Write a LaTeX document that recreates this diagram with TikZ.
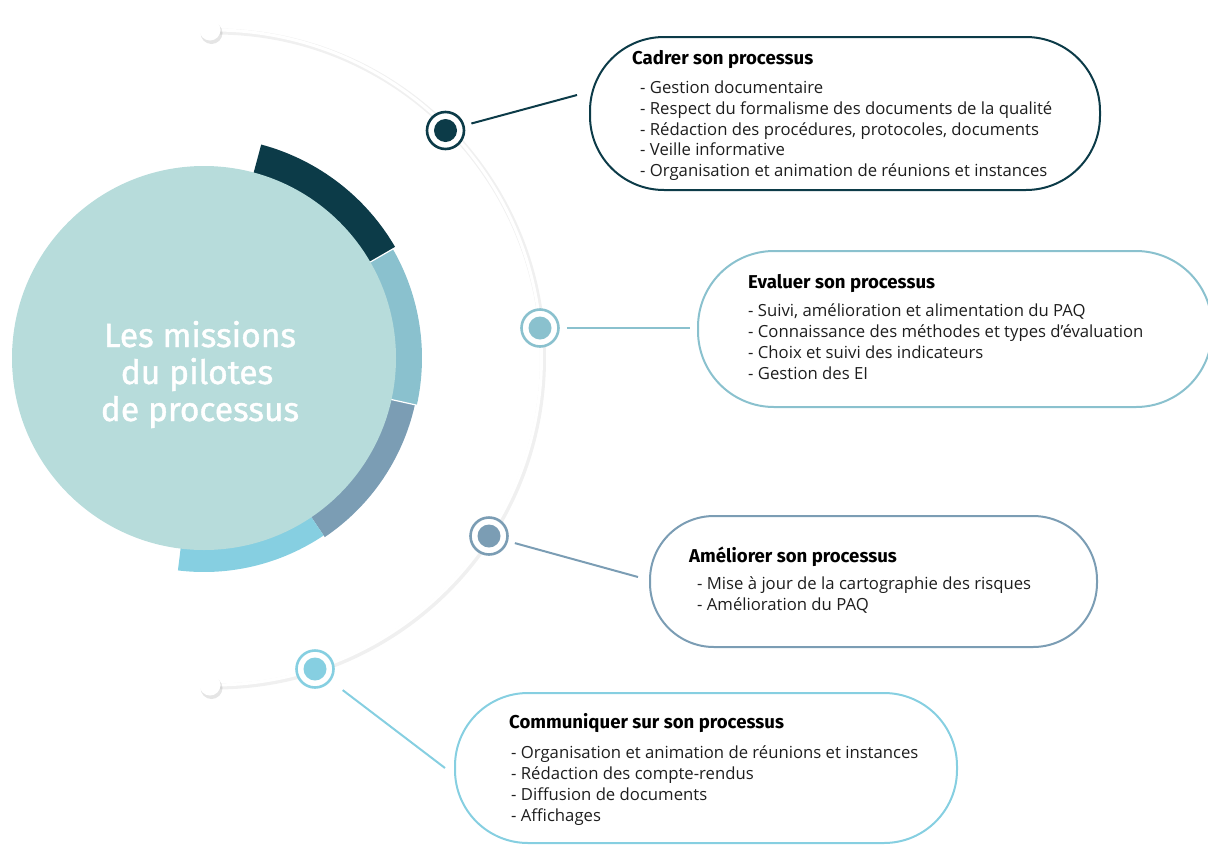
\documentclass[tikz,border=0pt]{standalone}
\usepackage{fontspec}
\setmainfont{Open Sans}
\newfontfamily\headfont{Fira Sans}
\newfontfamily\corefont{Fira Sans}[FakeBold=1.2]
\usetikzlibrary{calc}

\definecolor{corefill}{HTML}{B7DCDB}
\definecolor{deepteal}{HTML}{0C3B48}
\definecolor{softblue}{HTML}{8AC1CE}
\definecolor{slateblue}{HTML}{7B9DB4}
\definecolor{skycyan}{HTML}{86CFE1}
\definecolor{bodytext}{HTML}{1E1E1E}

\tikzset{
  mission dot/.style={circle, draw=#1, line width=2.6pt, fill=white,
    minimum size=37pt, inner sep=0pt,
    path picture={\fill[#1] (path picture bounding box.center) circle (11.5pt);}},
  link/.style={draw=#1, line width=2pt},
  missionbox/.style={draw=#1, line width=2pt, rectangle, inner sep=0pt},
  boxtitle/.style={anchor=base west, inner sep=0pt, text=black,
    font=\headfont\bfseries\fontsize{18.6}{23}\selectfont},
  boxitem/.style={anchor=base west, inner sep=0pt, text=bodytext,
    font=\fontsize{16.7}{20}\selectfont},
  coretext/.style={anchor=base, inner sep=0pt, text=white,
    font=\corefont\fontsize{33.5}{40}\selectfont},
  knob/.style={circle, fill=white, minimum size=21pt, inner sep=0pt},
}

\begin{document}
\begin{tikzpicture}[x=1pt,y=-1pt]
\useasboundingbox (0,0) rectangle (1208,844);

% ---- guiding arc with its end knobs ----
\draw[black!6, line width=6pt, line cap=round]
  (215.5,359) ++(-90.7:327.5) arc[start angle=-90.7, end angle=90.7, radius=327.5];
\draw[white, line width=3pt]
  (214,357.5) ++(-90.7:327.5) arc[start angle=-90.7, end angle=90.7, radius=327.5];
\fill[black, opacity=.10] (211.5,33) circle (11);
\fill[black, opacity=.10] (211.5,688) circle (11);
\node[knob] (k1) at (210,30) {};
\node[knob] (k2) at (210,685) {};

% ---- coloured ring around the core ----
\fill[deepteal] (204,358) ++(-75:221) arc[start angle=-75, end angle=-30, radius=221]
  -- ++(-30:-31) arc[start angle=-30, end angle=-75, radius=190] -- cycle;
\fill[softblue] (204,358) ++(-30:218) arc[start angle=-30, end angle=12.5, radius=218]
  -- ++(12.5:-28) arc[start angle=12.5, end angle=-30, radius=190] -- cycle;
\fill[slateblue] (204,358) ++(12.5:216) arc[start angle=12.5, end angle=56, radius=216]
  -- ++(56:-26) arc[start angle=56, end angle=12.5, radius=190] -- cycle;
\fill[skycyan] (204,358) ++(56:214) arc[start angle=56, end angle=97, radius=214]
  -- ++(97:-24) arc[start angle=97, end angle=56, radius=190] -- cycle;
\draw[white, line width=1.2pt] (204,358) ++(-30:191) -- ++(-30:31);
\draw[white, line width=1.2pt] (204,358) ++(12.5:191) -- ++(12.5:28);

% ---- core disc ----
\node[circle, fill=corefill, minimum size=384pt, inner sep=0pt] (core) at (204,358) {};
\node[coretext] (t1) at (200,347) {Les missions};
\node[coretext] (t2) at (197,384) {du pilotes};
\node[coretext] (t3) at (200,421) {de processus};

% ---- dots on the arc ----
\node[mission dot=deepteal]  (d1) at (445.5,130.5) {};
\node[mission dot=softblue]  (d2) at (540,328) {};
\node[mission dot=slateblue] (d3) at (489,536) {};
\node[mission dot=skycyan]   (d4) at (315,669) {};

% ---- boxes ----
\node[missionbox=deepteal, minimum width=510pt, minimum height=153pt,
      rounded corners=74pt] (b1) at (845,113.5) {};
\node[missionbox=softblue, minimum width=514pt, minimum height=156pt,
      rounded corners=76pt] (b2) at (955,329) {};
\node[missionbox=slateblue, minimum width=447pt, minimum height=131pt,
      rounded corners=64pt] (b3) at (873.5,581.5) {};
\node[missionbox=skycyan, minimum width=502pt, minimum height=150pt,
      rounded corners=73pt] (b4) at (706,768) {};

% ---- connectors ----
\coordinate (e1) at (577,95);
\coordinate (e2) at (690,328);
\coordinate (e3) at (638,577);
\coordinate (e4) at (445,768);
\draw[link=deepteal, shorten <=7pt]   (d1) -- (e1);
\draw[link=softblue, shorten <=7pt]   (d2) -- (e2);
\draw[link=slateblue, shorten <=7pt]  (d3) -- (e3);
\draw[link=skycyan, shorten <=15pt]   (d4) -- (e4);

% ---- box texts ----
\node[boxtitle] (h1) at (632,64.5) {Cadrer son processus};
\node[boxitem] (i11) at (640,93) {- Gestion documentaire};
\node[boxitem] (i12) at (640,114) {- Respect du formalisme des documents de la qualité};
\node[boxitem] (i13) at (640,135) {- Rédaction des procédures, protocoles, documents};
\node[boxitem] (i14) at (640,155.5) {- Veille informative};
\node[boxitem] (i15) at (640,176.5) {- Organisation et animation de réunions et instances};

\node[boxtitle] (h2) at (748,288) {Evaluer son processus};
\node[boxitem] (i21) at (748,316) {- Suivi, amélioration et alimentation du PAQ};
\node[boxitem] (i22) at (748,337) {- Connaissance des méthodes et types d’évaluation};
\node[boxitem] (i23) at (748,358) {- Choix et suivi des indicateurs};
\node[boxitem] (i24) at (748,379) {- Gestion des EI};

\node[boxtitle] (h3) at (689,562) {Améliorer son processus};
\node[boxitem] (i31) at (697,589) {- Mise à jour de la cartographie des risques};
\node[boxitem] (i32) at (697,610) {- Amélioration du PAQ};

\node[boxtitle] (h4) at (509,728) {Communiquer sur son processus};
\node[boxitem] (i41) at (511,758) {- Organisation et animation de réunions et instances};
\node[boxitem] (i42) at (511,779) {- Rédaction des compte-rendus};
\node[boxitem] (i43) at (511,800) {- Diffusion de documents};
\node[boxitem] (i44) at (511,821) {- Affichages};
\end{tikzpicture}
\end{document}
